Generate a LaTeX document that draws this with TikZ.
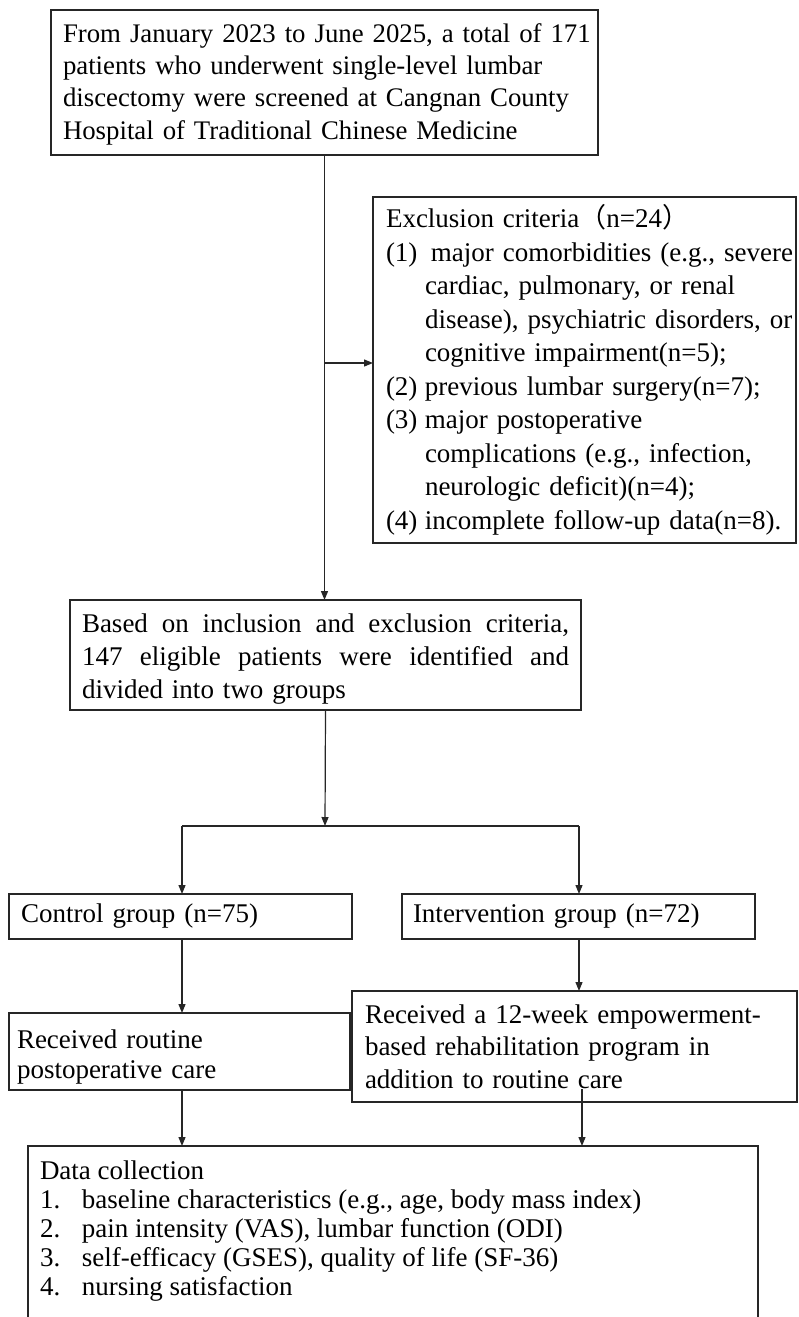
\documentclass[tikz,border=0pt]{standalone}
\usepackage{fontspec}
\setmainfont{Liberation Serif}
\newfontfamily\cjk{Noto Sans CJK SC}
\usetikzlibrary{arrows.meta,calc}
\newcommand\myind{\hspace*{39pt}}
\newcommand\myitem[1]{\makebox[39pt][l]{#1}}
\newcommand\mynum[1]{\makebox[42pt][l]{#1}}
\newcommand\myl[1]{\mbox{#1}}
\newcommand\myjust[1]{\makebox[487pt][s]{\spaceskip=0pt\relax\xspaceskip=0pt\relax #1}}
\hfuzz=200pt
\begin{document}
\begin{tikzpicture}[x=1pt,y=-1pt,
  box/.style={draw=black!85, line width=1.2pt, anchor=north west, inner ysep=0pt, align=left, outer sep=0pt},
  conn/.style={line width=1.2pt, draw=black!85},
  arr/.style={conn, -{Triangle[length=9pt,width=7pt]}}
]
\useasboundingbox (0,0) rectangle (798,1317);
\clip (0,0) rectangle (798,1317);

\node[box, minimum width=547pt, minimum height=145pt, text width=523pt, inner xsep=12pt,
  font=\fontsize{26.8}{32.3}\selectfont] (b1) at (51,10)
  {\myl{\rule{0pt}{22pt}From January 2023 to June 2025, a total of 171}\\
   \myl{patients who underwent single-level lumbar}\\
   \myl{discectomy were screened at Cangnan County}\\
   \myl{Hospital of Traditional Chinese Medicine}};

\node[box, minimum width=423pt, minimum height=346pt, text width=397pt, inner xsep=13pt,
  font=\fontsize{27}{33.5}\selectfont] (ex) at (373,197)
  {\myl{Exclusion criteria{\cjk （}n=24{\cjk ）}}\\
   \myl{\myitem{(1)}\hspace{6pt}major comorbidities (e.g., severe}\\
   \myl{\myind cardiac, pulmonary, or renal}\\
   \myl{\myind disease), psychiatric disorders, or}\\
   \myl{\myind cognitive impairment(n=5);}\\
   \myl{\myitem{(2)}previous lumbar surgery(n=7);}\\
   \myl{\myitem{(3)}major postoperative}\\
   \myl{\myind complications (e.g., infection,}\\
   \myl{\myind neurologic deficit)(n=4);}\\
   \myl{\myitem{(4)}incomplete follow-up data(n=8).}};

\node[box, minimum width=511pt, minimum height=110pt, text width=487pt, inner xsep=12pt,
  font=\fontsize{27}{33}\selectfont] (b3) at (70,600)
  {\myjust{\rule{0pt}{26pt}Based on inclusion and exclusion criteria,}\\
   \myjust{147 eligible patients were identified and}\\
   \myl{divided into two groups}};

\node[box, minimum width=343pt, minimum height=45pt, text width=319pt, inner xsep=12pt,
  font=\fontsize{27}{32}\selectfont] (ctrl) at (9,894)
  {\myl{Control group (n=75)}};

\node[box, minimum width=353pt, minimum height=45pt, text width=331pt, inner xsep=11pt,
  font=\fontsize{27}{32}\selectfont] (intv) at (402,894)
  {\myl{Intervention group (n=72)}};

\node[box, minimum width=341pt, minimum height=77pt, text width=325pt, inner xsep=8pt,
  font=\fontsize{27}{30}\selectfont] (rout) at (9,1013)
  {\myl{\rule{0pt}{30pt}Received routine}\\ \myl{postoperative care}};

\node[box, minimum width=445pt, minimum height=111pt, text width=419pt, inner xsep=13pt,
  font=\fontsize{27}{32.5}\selectfont] (rehab) at (352,991)
  {\myl{Received a 12-week empowerment-}\\
   \myl{based rehabilitation program in}\\
   \myl{addition to routine care}};

\node[box, inner xsep=12pt, inner ysep=15pt, font=\fontsize{27}{29}\selectfont] (data) at (28,1146)
  {\parbox[t][190pt][t]{706pt}{Data collection\\
   \mynum{1.}baseline characteristics (e.g., age, body mass index)\\
   \mynum{2.}pain intensity (VAS), lumbar function (ODI)\\
   \mynum{3.}self-efficacy (GSES), quality of life (SF-36)\\
   \mynum{4.}nursing satisfaction}};

% connectors
\coordinate (br) at ($(b1.south)+(0,208)$);
\draw[arr] (b1.south) -- (b1.south |- b3.north);
\draw[arr] (br) -- (br -| ex.west);

\coordinate (sp) at (325,826);
\coordinate (spl) at (182,826);
\coordinate (spr) at (579,826);
\draw[arr] (b3.south) -- (sp);
\draw[conn] (spl) -- (spr);
\draw[arr] (spl) -- (spl |- ctrl.north);
\draw[arr] (spr) -- (spr |- intv.north);

\coordinate (cs) at (182,939);
\draw[arr] (cs) -- (cs |- rout.north);
\coordinate (is) at (579,939);
\draw[arr] (is) -- (is |- rehab.north);

\coordinate (rs) at (182,1090);
\draw[arr] (rs) -- (rs |- data.north);
\coordinate (rc) at (582,1089);
\draw[arr] (rc) -- (rc |- data.north);
\end{tikzpicture}
\end{document}
